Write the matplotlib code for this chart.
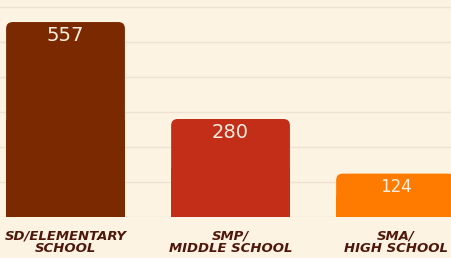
import matplotlib.pyplot as plt
from matplotlib.patches import FancyBboxPatch

categories = ["SD/ELEMENTARY\nSCHOOL", "SMP/\nMIDDLE SCHOOL", "SMA/\nHIGH SCHOOL"]
values = [557, 280, 124]
colors = ["#7A2900", "#C22E17", "#FF7B00"]
label_sizes = [14, 14, 12]

bg = "#FDF3E3"

fig = plt.figure(figsize=(4.51, 2.58), dpi=100)
fig.patch.set_facecolor(bg)
ax = fig.add_axes([0, 41 / 258, 1, 217 / 258])
ax.set_facecolor(bg)

bars = ax.bar(range(len(values)), values, width=0.72, color=colors)

# swap plain bars for ones with rounded tops
for b, c in zip(bars, colors):
    b.set_visible(False)
    x, w, h = b.get_x(), b.get_width(), b.get_height()
    r = 0.04
    ax.add_patch(FancyBboxPatch((x, 0), w, h,
                                boxstyle=f"round,pad=0,rounding_size={r}",
                                mutation_aspect=472, facecolor=c,
                                edgecolor="none", zorder=2))
    ax.add_patch(plt.Rectangle((x, 0), w, h / 2, facecolor=c,
                               edgecolor="none", zorder=2))

for i, v in enumerate(values):
    ax.text(i, v - 12, str(v), ha="center", va="top",
            fontsize=label_sizes[i], color="#FCEFE0", zorder=3)

ax.set_xlim(-0.397, 2.336)
ax.set_ylim(0, 620)
ax.set_yticks([100, 200, 300, 400, 500, 600])
ax.yaxis.grid(True, color="#EEE3D0", linewidth=1)
ax.set_axisbelow(True)
ax.axhline(0, color="#E6DAC6", linewidth=1, zorder=1)
for s in ax.spines.values():
    s.set_visible(False)
ax.tick_params(axis="y", left=False, labelleft=False)
ax.tick_params(axis="x", length=0, pad=9)
ax.set_xticks(range(len(categories)))
ax.set_xticklabels(categories, fontsize=9.5, fontweight="bold",
                   fontstyle="italic", family="DejaVu Sans", color="#4E1709",
                   linespacing=0.9)

plt.savefig("out.png", dpi=100, facecolor=bg)
